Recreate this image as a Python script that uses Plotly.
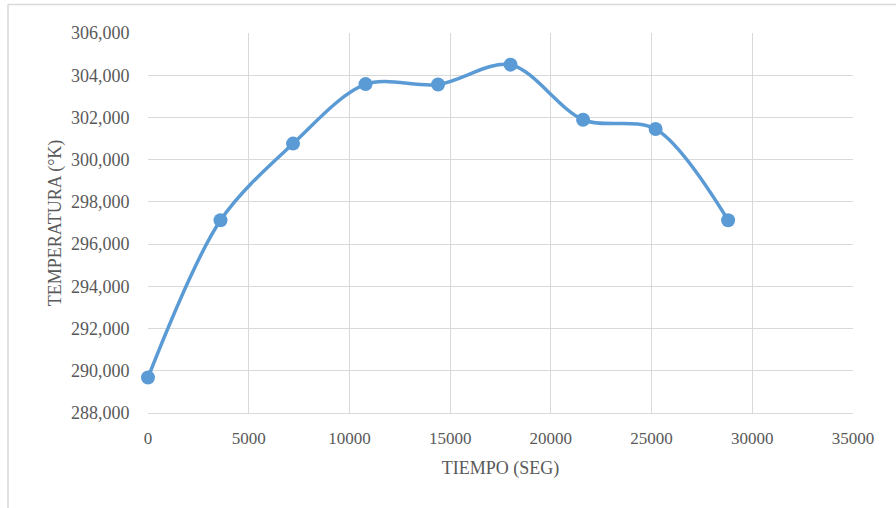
import plotly.graph_objects as go

tiempo = [0, 3600, 7200, 10800, 14400, 18000, 21600, 25200, 28800]
temperatura = [289.68, 297.13, 300.76, 303.58, 303.56, 304.50, 301.89, 301.45, 297.13]

y_ticks = [288, 290, 292, 294, 296, 298, 300, 302, 304, 306]
y_labels = ["288,000", "290,000", "292,000", "294,000", "296,000", "298,000",
            "300,000", "302,000", "304,000", "306,000"]
x_ticks = [0, 5000, 10000, 15000, 20000, 25000, 30000, 35000]
x_labels = ["0", "5000", "10000", "15000", "20000", "25000", "30000", "35000"]

font_family = "Liberation Serif, Times New Roman, serif"
text_color = "#595959"
grid_color = "#d9d9d9"

W, H = 896, 508
ML, MR, MT, MB = 148, 43, 33, 95
PW, PH = W - ML - MR, H - MT - MB

fig = go.Figure()
fig.add_trace(go.Scatter(
    x=tiempo, y=temperatura, mode="lines+markers",
    line=dict(color="#5b9bd5", width=3.5, shape="spline", smoothing=0.9),
    marker=dict(color="#5b9bd5", size=14),
    showlegend=False, cliponaxis=False,
))

fig.update_layout(
    width=W, height=H,
    margin=dict(l=ML, r=MR, t=MT, b=MB),
    paper_bgcolor="white", plot_bgcolor="white",
    font=dict(family=font_family, size=18, color=text_color),
    xaxis=dict(
        range=[0, 35000], tickvals=x_ticks, ticktext=x_labels,
        showgrid=True, gridcolor=grid_color, gridwidth=1,
        showline=True, linecolor=grid_color, linewidth=1,
        zeroline=False, ticks="outside", ticklen=10, tickcolor="rgba(0,0,0,0)",
        tickfont=dict(size=17),
        title=dict(text="TIEMPO (SEG)", font=dict(size=18), standoff=13),
    ),
    yaxis=dict(
        range=[288, 306], tickvals=y_ticks, ticktext=y_labels,
        showgrid=True, gridcolor=grid_color, gridwidth=1,
        zeroline=False, ticks="outside", ticklen=14, tickcolor="rgba(0,0,0,0)",
        tickfont=dict(size=18),
        title=dict(text="TEMPERATURA (°K)", font=dict(size=18), standoff=4),
    ),
)

# outer chart frame (top and left edges visible)
fx = (8 - ML) / PW
fy_top = (H - MB - 4.5) / PH
fy_bot = (H - MB - H) / PH
fig.add_shape(type="line", xref="paper", yref="paper",
              x0=fx, x1=(W - ML) / PW, y0=fy_top, y1=fy_top,
              line=dict(color=grid_color, width=1.5))
fig.add_shape(type="line", xref="paper", yref="paper",
              x0=fx, x1=fx, y0=fy_bot, y1=fy_top,
              line=dict(color=grid_color, width=1.5))

fig.write_html("out.html", config={"displayModeBar": False},
               post_script="document.body.style.margin='0';")
